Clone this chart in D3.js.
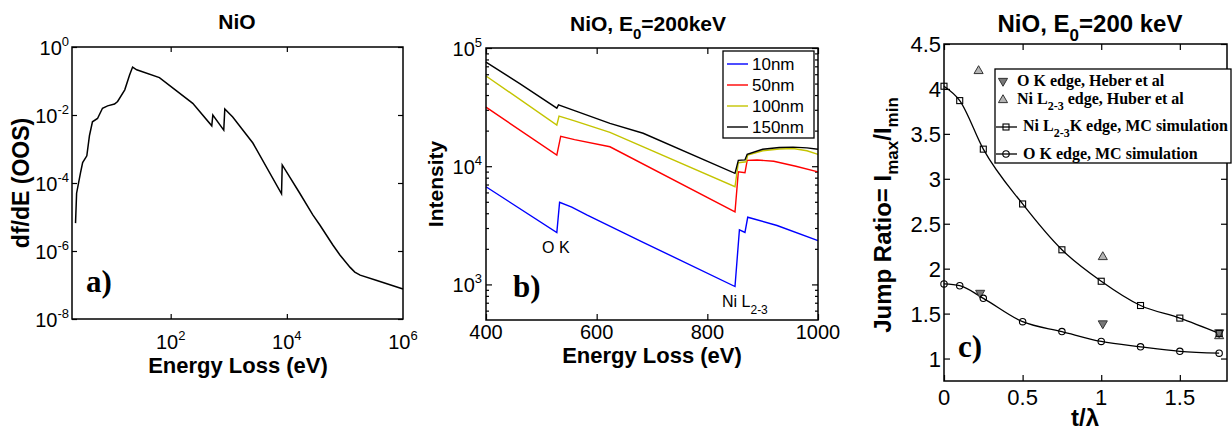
<!DOCTYPE html>
<html>
<head>
<meta charset="utf-8">
<script src="https://cdn.jsdelivr.net/npm/d3@7"></script>
<style>
body { margin: 0; background: #fff; }
svg { font-family: Arial, "Liberation Sans", sans-serif; }
</style>
</head>
<body>
<svg id="chart" width="1232" height="430"></svg>
<script>
// ---- panel a : oscillator strength, log-log
var energyA = [2.3, 2.4, 2.8, 3.05, 3.6, 4.0, 4.5, 5.5, 6.7, 8.2, 10.8, 12.2, 16.2, 19.6, 22.1, 26, 64, 240, 510, 532, 820, 855, 1170, 2600, 8100, 8333, 16700, 28000, 37000, 62000, 82000, 123000, 148000, 183000, 355000, 1e6];
var dfdeA = [6.6e-6, 5e-5, 2e-4, 4e-4, 6.3e-4, 2.5e-3, 6.3e-3, 7.9e-3, 0.0158, 0.0186, 0.021, 0.025, 0.055, 0.15, 0.257, 0.214, 0.126, 0.022, 0.0048, 0.01, 0.0036, 0.015, 0.0087, 0.0015, 4.8e-5, 3.4e-4, 5e-5, 1.15e-5, 5.8e-6, 1.5e-6, 7.6e-7, 3.3e-7, 2.4e-7, 1.95e-7, 1.35e-7, 7.6e-8];
var ticksXA = [1e2, 1e4, 1e6];
var ticksYA = [1e-8, 1e-6, 1e-4, 1e-2, 1];

// ---- panel b : spectra for four thicknesses
var thickNames = ['10nm', '50nm', '100nm', '150nm'];
var thickColors = ['#0000ff', '#ff0000', '#c4c400', '#000000'];
var energy10 = [400, 528, 533, 555, 583, 684, 850, 858, 868, 873, 926, 1000];
var int10 = [6700, 2750, 4950, 4500, 3850, 2270, 960, 2900, 2750, 3700, 3150, 2350];
var energy50 = [400, 528, 535, 560, 624, 850, 856, 868, 872, 890, 920, 960, 1000];
var int50 = [31600, 12400, 17900, 16800, 14600, 4100, 8950, 8800, 11200, 11300, 11000, 10000, 8950];
var energy100 = [400, 528, 532, 560, 624, 850, 856, 870, 873, 900, 930, 955, 980, 1000];
var int100 = [58000, 22300, 26500, 24200, 19300, 6700, 10700, 10900, 12400, 13500, 14000, 14100, 13500, 12600];
var energy150 = [400, 461, 528, 531, 560, 624, 684, 850, 856, 868, 872, 900, 930, 955, 980, 1000];
var int150 = [76000, 50000, 31000, 33000, 29500, 23000, 19000, 8700, 11200, 11300, 12600, 13900, 14400, 14500, 14300, 13900];
var ticksXB = [400, 600, 800, 1000];
var ticksYB = [1e3, 1e4, 1e5];
var minorYB = [600, 700, 800, 900, 2000, 3000, 4000, 5000, 6000, 7000, 8000, 9000, 20000, 30000, 40000, 50000, 60000, 70000, 80000, 90000];

// ---- panel c : jump ratio vs t/lambda
var tLambda = [0, 0.1, 0.25, 0.5, 0.75, 1, 1.25, 1.5, 1.75];
var jumpNiMC = [4.03, 3.87, 3.33, 2.72, 2.21, 1.86, 1.59, 1.45, 1.28];
var jumpOMC = [1.83, 1.81, 1.67, 1.41, 1.30, 1.19, 1.13, 1.08, 1.06];
var tHeber = [0.23, 1.01, 1.75];
var jumpHeber = [1.73, 1.39, 1.29];
var tHuber = [0.22, 1.01, 1.75];
var jumpHuber = [4.2, 2.13, 1.25];
var ticksXC = [0, 0.5, 1, 1.5];
var ticksYC = [1, 1.5, 2, 2.5, 3, 3.5, 4, 4.5];

var svg = d3.select('#chart');

function frame(x, y, xt, yt, len) {
    var r = x.range(), d = y.range();
    var g = svg.append('g');
    g.append('g').attr('transform', 'translate(0,' + d[0] + ')')
        .call(d3.axisBottom(x).tickValues(xt).tickSize(-len).tickFormat(''));
    g.append('g').attr('transform', 'translate(0,' + d[1] + ')')
        .call(d3.axisTop(x).tickValues(xt).tickSize(-len).tickFormat(''));
    g.append('g').attr('transform', 'translate(' + r[0] + ',0)')
        .call(d3.axisLeft(y).tickValues(yt).tickSize(-len).tickFormat(''));
    g.append('g').attr('transform', 'translate(' + r[1] + ',0)')
        .call(d3.axisRight(y).tickValues(yt).tickSize(-len).tickFormat(''));
    g.selectAll('.domain').remove();
    g.selectAll('line').attr('stroke', '#000').attr('stroke-width', 1.2);
    return g;
}

function box(x, y) {
    var r = x.range(), d = y.range();
    svg.append('rect').attr('x', r[0]).attr('y', d[1])
        .attr('width', r[1] - r[0]).attr('height', d[0] - d[1])
        .attr('fill', 'none').attr('stroke', '#000').attr('stroke-width', 1.5);
}

function pow10(t, v, fs) {
    var e = Math.round(Math.log10(v));
    t.append('tspan').text('10');
    t.append('tspan').attr('dy', -fs * 0.45).attr('font-size', fs * 0.65).text(e);
}

function label(x, y, size, txt, anchor, bold) {
    return svg.append('text').attr('x', x).attr('y', y).attr('font-size', size)
        .attr('text-anchor', anchor || 'middle').attr('font-weight', bold ? 'bold' : 'normal').text(txt);
}

function tag(x, y, txt) {
    svg.append('text').attr('x', x).attr('y', y).attr('font-size', 31)
        .attr('font-family', '"Liberation Serif", "Times New Roman", serif')
        .attr('font-weight', 'bold').text(txt);
}

// =========== panel a
var xA = d3.scaleLog().domain([2, 1e6]).range([72, 403]);
var yA = d3.scaleLog().domain([1e-8, 1]).range([319, 47]);
frame(xA, yA, [1e2, 1e4], ticksYA, 5);
svg.append('path').datum(d3.zip(energyA, dfdeA))
    .attr('fill', 'none').attr('stroke', '#000').attr('stroke-width', 1.5)
    .attr('d', d3.line().x(d => xA(d[0])).y(d => yA(d[1])));
box(xA, yA);
ticksXA.forEach(function (v) {
    var t = svg.append('text').attr('x', xA(v)).attr('y', 349).attr('font-size', 20).attr('text-anchor', 'middle');
    pow10(t, v, 20);
});
ticksYA.forEach(function (v) {
    var t = svg.append('text').attr('x', 69).attr('y', yA(v) + 8).attr('font-size', 20).attr('text-anchor', 'end');
    pow10(t, v, 20);
});
label(237, 29, 21, 'NiO', 'middle', true);
label(238, 373, 22, 'Energy Loss (eV)', 'middle', true);
label(0, 0, 23, 'df/dE (OOS)', 'middle', true).attr('transform', 'translate(29,183) rotate(-90)');
tag(86, 292, 'a)');

// =========== panel b
var xB = d3.scaleLinear().domain([400, 1000]).range([486, 818]);
var yB = d3.scaleLog().domain([500, 1e5]).range([320, 48]);
frame(xB, yB, ticksXB, ticksYB, 6);
frame(xB, yB, [], minorYB, 3);
var seriesB = [d3.zip(energy10, int10), d3.zip(energy50, int50), d3.zip(energy100, int100), d3.zip(energy150, int150)];
var lineB = d3.line().x(d => xB(d[0])).y(d => yB(d[1]));
seriesB.forEach(function (s, i) {
    svg.append('path').datum(s).attr('fill', 'none').attr('stroke', thickColors[i])
        .attr('stroke-width', 1.4).attr('d', lineB);
});
box(xB, yB);
ticksXB.forEach(function (v) {
    label(xB(v), 339, 20, v);
});
ticksYB.forEach(function (v) {
    var t = svg.append('text').attr('x', 482).attr('y', yB(v) + 8).attr('font-size', 20).attr('text-anchor', 'end');
    pow10(t, v, 20);
});
// legend b
svg.append('rect').attr('x', 723).attr('y', 51).attr('width', 91).attr('height', 87)
    .attr('fill', '#fff').attr('stroke', '#000').attr('stroke-width', 1.3);
thickNames.forEach(function (n, i) {
    var yy = 64 + i * 21;
    svg.append('line').attr('x1', 727).attr('x2', 748).attr('y1', yy).attr('y2', yy)
        .attr('stroke', thickColors[i]).attr('stroke-width', 1.4);
    label(752, yy + 6, 17, n, 'start');
});
var tt = svg.append('text').attr('x', 648).attr('y', 31).attr('font-size', 21).attr('font-weight', 'bold').attr('text-anchor', 'middle');
tt.append('tspan').text('NiO, E');
tt.append('tspan').attr('dy', 8).attr('font-size', 15).text('0');
tt.append('tspan').attr('dy', -8).text('=200keV');
label(652, 363, 22, 'Energy Loss (eV)', 'middle', true);
label(0, 0, 21, 'Intensity', 'middle', true).attr('transform', 'translate(443,184) rotate(-90)');
label(542, 253, 16, 'O K', 'start');
var ni = svg.append('text').attr('x', 722).attr('y', 307).attr('font-size', 16);
ni.append('tspan').text('Ni L');
ni.append('tspan').attr('dy', 7).attr('font-size', 12).text('2-3');
tag(513, 297, 'b)');

// =========== panel c
var xC = d3.scaleLinear().domain([0, 1.8]).range([944, 1227]);
var yC = d3.scaleLinear().domain([0.75, 4.5]).range([381, 44]);
frame(xC, yC, ticksXC, ticksYC, 6);
var lineC = d3.line().curve(d3.curveMonotoneX).x(d => xC(d[0])).y(d => yC(d[1]));
var niMC = d3.zip(tLambda, jumpNiMC), oMC = d3.zip(tLambda, jumpOMC);
[niMC, oMC].forEach(function (s) {
    svg.append('path').datum(s).attr('fill', 'none').attr('stroke', '#000')
        .attr('stroke-width', 1.3).attr('d', lineC);
});
var triUp = d3.symbol().type(d3.symbolTriangle).size(36);
function downTri(g, x, y) {
    g.append('path').attr('d', triUp()).attr('transform', 'translate(' + x + ',' + y + ') rotate(180)')
        .attr('fill', '#777').attr('stroke', '#333').attr('stroke-width', 1);
}
function upTri(g, x, y) {
    g.append('path').attr('d', triUp()).attr('transform', 'translate(' + x + ',' + y + ')')
        .attr('fill', '#b4b4b4').attr('stroke', '#333').attr('stroke-width', 1);
}
function square(g, x, y) {
    g.append('rect').attr('x', x - 3).attr('y', y - 3).attr('width', 6).attr('height', 6)
        .attr('fill', 'none').attr('stroke', '#000').attr('stroke-width', 1.1);
}
function circle(g, x, y) {
    g.append('circle').attr('cx', x).attr('cy', y).attr('r', 3.2)
        .attr('fill', 'none').attr('stroke', '#000').attr('stroke-width', 1.1);
}
d3.zip(tHuber, jumpHuber).forEach(d => upTri(svg, xC(d[0]), yC(d[1])));
d3.zip(tHeber, jumpHeber).forEach(d => downTri(svg, xC(d[0]), yC(d[1])));
niMC.forEach(d => square(svg, xC(d[0]), yC(d[1])));
oMC.forEach(d => circle(svg, xC(d[0]), yC(d[1])));
box(xC, yC);
ticksXC.forEach(function (v) {
    label(xC(v), 405, 22, v);
});
ticksYC.forEach(function (v) {
    label(941, yC(v) + 8, 22, v, 'end');
});
// legend c
var lg = svg.append('g').attr('font-family', '"Liberation Serif", "Times New Roman", serif')
    .attr('font-weight', 'bold').attr('font-size', 16);
lg.append('rect').attr('x', 995).attr('y', 69).attr('width', 236).attr('height', 94)
    .attr('fill', '#fff').attr('stroke', '#000').attr('stroke-width', 1.3);
downTri(lg, 1003, 81);
lg.append('text').attr('x', 1017).attr('y', 86).text('O K edge, Heber et al');
upTri(lg, 1003, 100);
var r2 = lg.append('text').attr('x', 1017).attr('y', 104);
r2.append('tspan').text('Ni L');
r2.append('tspan').attr('dy', 6).attr('font-size', 12).text('2-3');
r2.append('tspan').attr('dy', -6).text(' edge, Huber et al');
lg.append('line').attr('x1', 996).attr('x2', 1017).attr('y1', 127).attr('y2', 127).attr('stroke', '#000').attr('stroke-width', 1.3);
square(lg, 1006, 127);
var r3 = lg.append('text').attr('x', 1023).attr('y', 131);
r3.append('tspan').text('Ni L');
r3.append('tspan').attr('dy', 6).attr('font-size', 12).text('2-3');
r3.append('tspan').attr('dy', -6).text('K edge, MC simulation');
lg.append('line').attr('x1', 996).attr('x2', 1017).attr('y1', 154).attr('y2', 154).attr('stroke', '#000').attr('stroke-width', 1.3);
circle(lg, 1006, 154);
lg.append('text').attr('x', 1023).attr('y', 159).text('O K edge, MC simulation');

var tc = svg.append('text').attr('x', 1090).attr('y', 32).attr('font-size', 24).attr('font-weight', 'bold').attr('text-anchor', 'middle');
tc.append('tspan').text('NiO, E');
tc.append('tspan').attr('dy', 9).attr('font-size', 17).text('0');
tc.append('tspan').attr('dy', -9).text('=200 keV');
label(1085, 426, 24, 't/\u03bb', 'middle', true);
var yl = svg.append('text').attr('font-size', 24).attr('font-weight', 'bold').attr('text-anchor', 'middle')
    .attr('transform', 'translate(891,215) rotate(-90)');
yl.append('tspan').text('Jump Ratio= I');
yl.append('tspan').attr('dy', 7).attr('font-size', 17).text('max');
yl.append('tspan').attr('dy', -7).text('/I');
yl.append('tspan').attr('dy', 7).attr('font-size', 17).text('min');
tag(958, 357, 'c)');
</script>
</body>
</html>
